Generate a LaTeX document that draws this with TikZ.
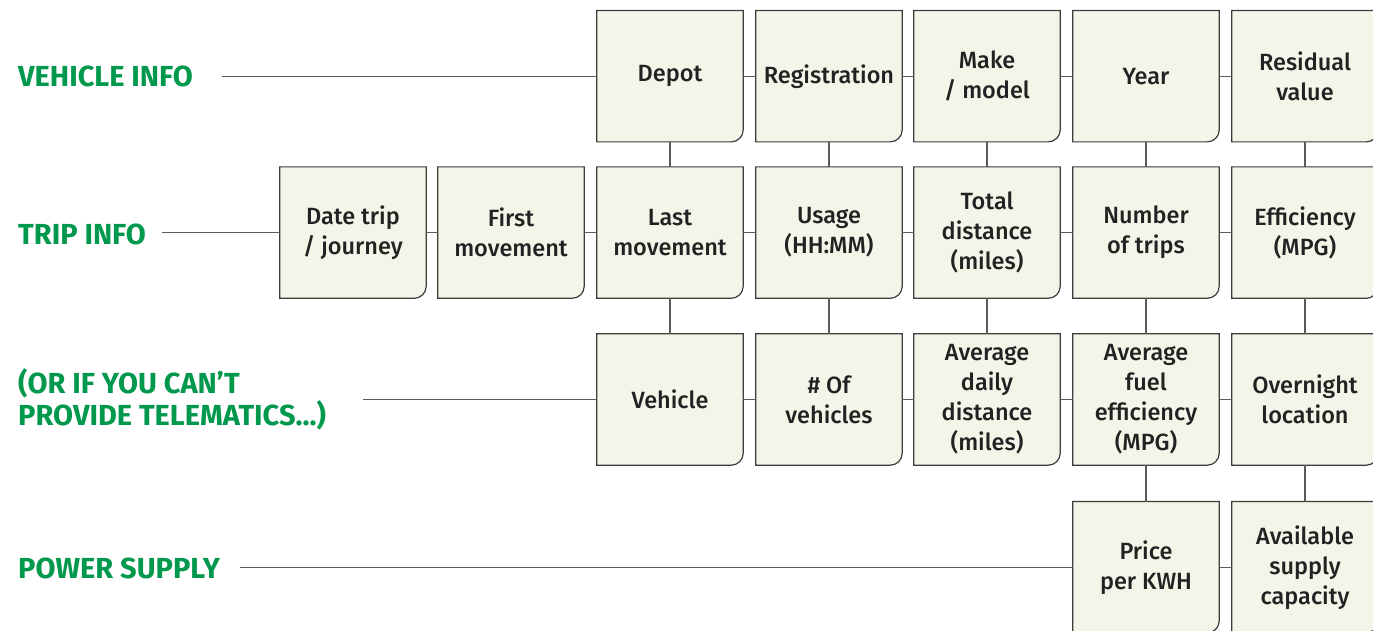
\documentclass[tikz,border=0pt]{standalone}
\usepackage{fontspec}
\setmainfont{Fira Sans}
\newfontfamily\boxfont{Fira Sans Medium}
\usetikzlibrary{backgrounds}
\definecolor{boxfill}{RGB}{242,245,232}
\definecolor{boxline}{RGB}{60,60,60}
\definecolor{conn}{RGB}{90,90,90}
\definecolor{lblgreen}{RGB}{0,152,76}
\definecolor{boxtext}{RGB}{34,34,34}
\begin{document}
\begin{tikzpicture}[x=1pt,y=1pt,
  cell/.style={minimum width=146pt,minimum height=131pt,inner sep=0pt,align=center,
    font=\boxfont\fontsize{23.5}{30}\selectfont,text=boxtext},
  lbl/.style={anchor=west,inner sep=0pt,align=left,
    font=\fontsize{29}{32}\selectfont\bfseries,text=lblgreen},
  link/.style={draw=conn,line width=1.3pt},
  outline/.style={fill=boxfill,draw=boxline,line width=1.2pt}]
\useasboundingbox (0,0) rectangle (1373,630);

% row 1
\node[cell] (d1) at (670,553.8) {Depot};
\node[cell] (d2) at (829,553.8) {Registration};
\node[cell] (d3) at (987,553.8) {Make\\/ model};
\node[cell] (d4) at (1146,553.8) {Year};
\node[cell] (d5) at (1305,553.8) {Residual\\value};
% row 2
\node[cell] (t1) at (353,397.4) {Date trip\\/ journey};
\node[cell] (t2) at (511,397.4) {First\\movement};
\node[cell] (t3) at (670,397.4) {Last\\movement};
\node[cell] (t4) at (829,397.4) {Usage\\(HH:MM)};
\node[cell] (t5) at (987,397.4) {Total\\distance\\(miles)};
\node[cell] (t6) at (1146,397.4) {Number\\of trips};
\node[cell] (t7) at (1305,397.4) {Efficiency\\(MPG)};
% row 3
\node[cell] (o1) at (670,230.5) {Vehicle};
\node[cell] (o2) at (829,230.5) {\# Of\\vehicles};
\node[cell] (o3) at (987,230.5) {Average\\daily\\distance\\(miles)};
\node[cell] (o4) at (1146,230.5) {Average\\fuel\\efficiency\\(MPG)};
\node[cell] (o5) at (1305,230.5) {Overnight\\location};
% row 4
\node[cell] (p1) at (1146,62.8) {Price\\per KWH};
\node[cell] (p2) at (1305,62.8) {Available\\supply\\capacity};

% labels
\node[lbl] (lv) at (18,554) {VEHICLE INFO};
\node[lbl] (lt) at (18,396) {TRIP INFO};
\node[lbl] (lo) at (18,231) {(OR IF YOU CAN’T\\PROVIDE TELEMATICS...)};
\node[lbl] (lp) at (18,62) {POWER SUPPLY};
\coordinate (cv) at (222,553.8);
\coordinate (ct) at (162,397.4);
\coordinate (co) at (363,230.5);
\coordinate (cp) at (240,62.8);

\begin{scope}[on background layer]
\foreach \n in {d1,d2,d3,d4,d5,t1,t2,t3,t4,t5,t6,t7,o1,o2,o3,o4,o5,p1,p2}{
  \path[outline] (\n.north west) -- (\n.north east) -- ([yshift=12pt]\n.south east)
    arc[start angle=0,end angle=-90,radius=12pt] -- (\n.south west) -- cycle;
}
\end{scope}

% label connectors
\draw[link] (cv) -- (d1.west);
\draw[link] (ct) -- (t1.west);
\draw[link] (co) -- (o1.west);
\draw[link] (cp) -- (p1.west);
% horizontal chains
\foreach \a/\b in {d1/d2,d2/d3,d3/d4,d4/d5,t1/t2,t2/t3,t3/t4,t4/t5,t5/t6,t6/t7,o1/o2,o2/o3,o3/o4,o4/o5,p1/p2}{
  \draw[link] (\a.east) -- (\b.west);
}
% vertical
\foreach \a/\b in {d1/t3,d2/t4,d3/t5,d4/t6,d5/t7,t3/o1,t4/o2,t5/o3,t6/o4,t7/o5,o4/p1,o5/p2}{
  \draw[link] (\a.south) -- (\b.north);
}
\end{tikzpicture}
\end{document}
